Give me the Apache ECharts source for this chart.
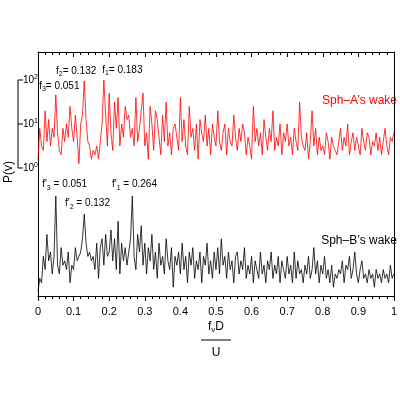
<!DOCTYPE html>
<html><head><meta charset="utf-8">
<script src="https://cdn.jsdelivr.net/npm/echarts@6/dist/echarts.min.js"></script>
<style>html,body{margin:0;padding:0;background:#fff}#c{width:400px;height:400px}</style>
</head><body><div id="c"></div>
<script>
const xStep = 0.005;
const xTicks = ['0','0.1','0.2','0.3','0.4','0.5','0.6','0.7','0.8','0.9','1'];
// Sph-A wake: log10 P(v)
const redLog = [0.2,0.9,0.5,0.4,1.3,0.6,1.1,0.5,0.9,0.7,
1.66,0.8,0.4,0.3,0.9,0.6,1.0,0.7,1.4,0.9,
0.6,1.2,0.7,0.1,1.0,1.2,1.98,1.1,0.6,0.5,
0.2,0.4,0.3,0.5,0.2,0.6,1.0,2.0,1.2,0.5,
1.7,0.8,0.4,1.5,0.9,1.6,0.5,1.0,0.7,1.4,
1.1,1.2,0.7,0.9,0.5,1.6,0.6,0.9,1.3,1.7,
0.5,0.8,0.2,1.4,1.0,0.4,1.3,1.1,0.7,0.3,
1.2,0.6,1.5,0.5,0.8,0.3,0.9,1.0,0.7,0.4,
1.6,0.6,1.1,0.5,0.3,1.4,0.7,0.9,0.4,1.0,
0.2,1.1,0.8,0.6,1.2,0.5,0.9,0.3,1.0,0.7,
0.5,1.3,0.6,0.4,0.8,1.0,0.3,0.9,0.6,0.5,
1.2,0.7,0.4,0.9,0.6,1.0,0.8,0.3,0.7,0.5,
0.2,1.4,0.6,0.9,0.5,0.8,0.3,1.1,0.7,0.4,
0.9,0.6,1.3,0.4,0.7,0.5,1.0,0.3,0.8,0.6,
1.0,0.5,0.7,0.3,0.9,0.6,0.4,1.5,0.7,0.5,
0.4,0.8,0.2,0.6,1.3,0.5,0.9,0.3,0.7,0.4,
0.5,0.3,0.8,0.6,0.2,0.7,0.5,0.4,0.3,0.6,
0.9,0.4,0.7,0.5,1.0,0.3,0.6,0.8,0.4,0.7,
0.5,0.3,0.9,0.6,0.4,0.8,0.7,0.3,0.6,0.5,
0.8,0.4,0.7,0.3,0.6,0.9,0.5,0.3,0.7,0.6,0.8];
// Sph-B wake (same decade units, baseline at plot bottom)
const blackVals = [0.1,0.4,0.3,0.9,0.6,1.4,0.8,1.0,0.5,0.9,
2.27,0.7,0.5,1.1,0.7,0.8,0.6,1.0,0.3,0.7,
0.6,1.1,0.8,0.9,1.0,1.3,1.86,1.2,0.9,1.0,
0.8,0.9,0.6,1.2,0.4,1.1,1.3,0.7,1.4,0.9,
1.0,1.5,0.8,1.3,0.6,1.7,0.5,1.2,0.8,1.1,
0.7,1.0,1.3,2.27,0.9,0.6,1.4,1.0,1.6,0.7,
1.2,0.5,1.1,0.8,1.4,0.6,1.0,0.4,1.2,0.7,
0.9,0.5,1.3,0.8,0.6,1.1,0.2,0.9,0.7,1.0,
0.5,1.2,0.6,0.9,0.3,1.0,0.7,1.1,0.4,0.8,
0.6,1.0,0.3,0.9,0.7,1.2,0.5,0.8,0.4,1.0,
0.6,1.1,0.5,1.3,0.7,0.9,0.4,1.0,0.6,0.8,
0.3,0.9,1.0,0.5,0.8,0.6,1.1,0.4,0.7,0.5,
0.9,0.3,0.8,0.6,0.4,1.0,0.5,0.7,0.3,0.8,
0.6,1.0,0.4,0.7,0.5,0.9,0.3,0.8,0.6,0.4,
0.9,0.5,0.7,0.3,1.0,0.4,0.8,0.5,0.6,0.3,
0.7,0.5,0.9,0.4,0.6,1.1,0.5,0.8,0.3,0.7,
0.5,0.9,0.4,0.6,0.3,0.7,0.2,0.5,0.4,0.6,
0.5,0.8,0.3,0.7,0.6,0.9,0.4,0.6,1.0,0.5,
0.3,0.6,0.8,0.4,0.5,0.3,0.6,0.4,0.5,0.2,
0.6,0.4,0.5,0.3,0.6,0.4,0.5,0.3,0.7,0.4,0.5];
const redOffset = 2.909;
const yBase = 10;
const yMax = 5.545;
const redPeaks = [{x:0.051,y:1.66,t:'3',v:'0.051'},{x:0.132,y:1.98,t:'2',v:'0.132'},{x:0.183,y:2.0,t:'1',v:'0.183'}];
const blackPeaks = [{x:0.051,y:2.27,t:'3',v:'0.051'},{x:0.132,y:1.86,t:'2',v:'0.132'},{x:0.264,y:2.27,t:'1',v:'0.264'}];

const F = 'Liberation Sans, Arial, sans-serif';
const ch = echarts.init(document.getElementById('c'));
const redData = redLog.map((v,i)=>[+(i*xStep).toFixed(3), v+redOffset+yBase]);
const blackData = blackVals.map((v,i)=>[+(i*xStep).toFixed(3), v+yBase]);
const tickFmt = v => { const s = xTicks[Math.round(v*10)]; return s===undefined?'':s; };
function xAx(pos, showLab, inside){
  return {type:'value',min:0,max:1,interval:0.1,position:pos,
    axisLine:{show:true,lineStyle:{color:'#000',width:1}},
    axisTick:{show:true,inside:inside,length:5,lineStyle:{color:'#000',width:1}},
    minorTick:{show:true,splitNumber:5,length:3,lineStyle:{color:'#000',width:1}},
    axisLabel:showLab?{formatter:tickFmt,color:'#000',fontSize:11,fontFamily:F,margin:10}:{show:false},
    splitLine:{show:false}};
}
ch.setOption({
  animation:false,
  grid:{left:38,right:2,top:52,bottom:104},
  xAxis:[xAx('bottom',true,false), xAx('top',false,true)],
  yAxis:[{type:'value',min:yBase,max:yBase+yMax,position:'left',axisLine:{show:true,onZero:false,lineStyle:{color:'#000'}},
    axisTick:{show:false},axisLabel:{show:false},splitLine:{show:false}},
   {type:'value',min:yBase,max:yBase+yMax,position:'right',axisLine:{show:true,onZero:false,lineStyle:{color:'#000'}},
    axisTick:{show:false},axisLabel:{show:false},splitLine:{show:false}}],
  series:[
    {type:'line',xAxisIndex:0,yAxisIndex:0,data:redData,showSymbol:false,lineStyle:{color:'#ff0000',width:0.8},z:3},
    {type:'line',xAxisIndex:0,yAxisIndex:0,data:blackData,showSymbol:false,lineStyle:{color:'#000',width:0.8},z:3},
    {type:'line',xAxisIndex:1,yAxisIndex:1,data:[],showSymbol:false}
  ]
});
const P = (x,y)=>ch.convertToPixel({xAxisIndex:0,yAxisIndex:0},[x,y+yBase]);
const rich = {s:{fontSize:7,fontFamily:F,padding:[6,0,0,0]},
  n:{fontSize:10,fontFamily:F},p:{fontSize:7,fontFamily:F,padding:[0,0,6,0]}};
const g = [];
const b0 = P(0,redOffset), b2 = P(0,redOffset+2);
g.push({type:'line',shape:{x1:18,y1:b0[1],x2:18,y2:b2[1]},style:{stroke:'#000',lineWidth:1}});
for(let k=0;k<=2;k++){
  const p = P(0,redOffset+k);
  g.push({type:'line',shape:{x1:18,y1:p[1],x2:23,y2:p[1]},style:{stroke:'#000',lineWidth:1}});
  g.push({type:'text',x:23,y:p[1],style:{text:'{n|10}{p|'+k+'}',rich:rich,verticalAlign:'middle',fill:'#000'}});
}
const pr = redPeaks.map(p=>P(p.x,p.y+redOffset));
const lab = (t,v)=>'{n|f}{s|'+t+'}{n|= '+v+'}';
const labP = (t,v)=>"{n|f'}{s|"+t+'}{n| = '+v+'}';
g.push({type:'text',x:pr[0][0]-17,y:pr[0][1]-2,style:{text:lab('3',redPeaks[0].v),rich,fill:'#000',verticalAlign:'bottom'}});
g.push({type:'text',x:pr[1][0]-29,y:pr[1][1]-3,style:{text:lab('2',redPeaks[1].v),rich,fill:'#000',verticalAlign:'bottom'}});
g.push({type:'text',x:pr[2][0]-1,y:pr[2][1]-3,style:{text:lab('1',redPeaks[2].v),rich,fill:'#000',verticalAlign:'bottom'}});
const pb = blackPeaks.map(p=>P(p.x,p.y));
g.push({type:'text',x:pb[0][0]-14,y:pb[0][1]-5,style:{text:labP('3',blackPeaks[0].v),rich,fill:'#000',verticalAlign:'bottom'}});
g.push({type:'text',x:pb[1][0]-20,y:pb[1][1]-4,style:{text:labP('2',blackPeaks[1].v),rich,fill:'#000',verticalAlign:'bottom'}});
g.push({type:'text',x:pb[2][0]-20,y:pb[2][1]-5,style:{text:labP('1',blackPeaks[2].v),rich,fill:'#000',verticalAlign:'bottom'}});
g.push({type:'text',x:397,y:101,style:{text:'Sph\u2013A\u2019s wake',fill:'#ff0000',font:'12px '+F,align:'right',verticalAlign:'middle'}});
g.push({type:'text',x:397,y:241,style:{text:'Sph\u2013B\u2019s wake',fill:'#000',font:'12px '+F,align:'right',verticalAlign:'middle'}});
g.push({type:'text',x:9,y:172,rotation:Math.PI/2,style:{text:'P(v)',fill:'#000',font:'12px '+F,align:'center',verticalAlign:'middle'}});
const cx = P(0.5,0)[0];
g.push({type:'text',x:cx,y:327,style:{text:'{a|f}{b|v}{a|D}',rich:{a:{fontSize:12,fontFamily:F},b:{fontSize:8,fontFamily:F,padding:[6,0,0,0]}},fill:'#000',align:'center',verticalAlign:'middle'}});
g.push({type:'line',shape:{x1:cx-15,y1:340,x2:cx+15,y2:340},style:{stroke:'#000',lineWidth:1}});
g.push({type:'text',x:cx,y:353,style:{text:'U',fill:'#000',font:'12px '+F,align:'center',verticalAlign:'middle'}});
ch.setOption({graphic:g});
</script></body></html>
